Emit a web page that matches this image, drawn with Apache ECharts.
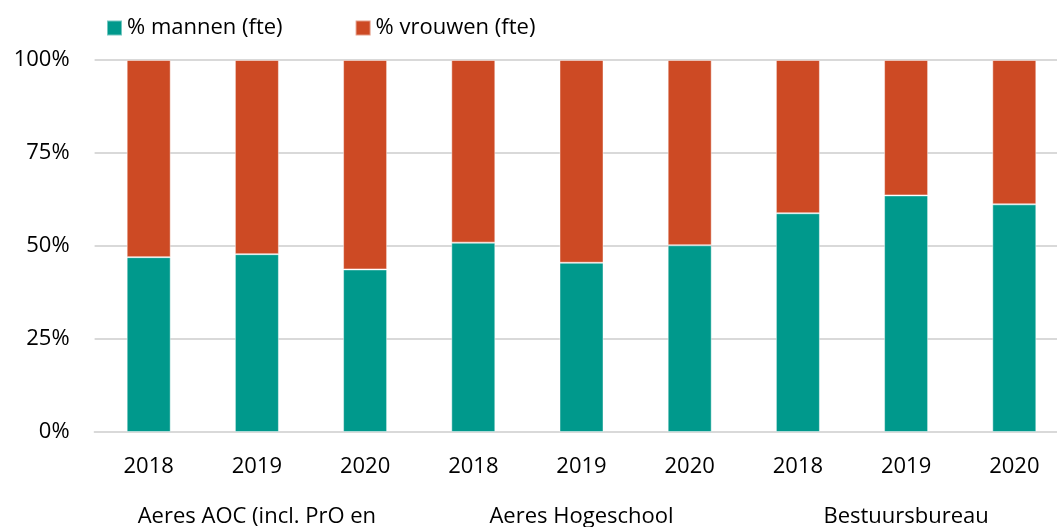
<!DOCTYPE html>
<html>
<head>
<meta charset="utf-8">
<script src="https://cdn.jsdelivr.net/npm/echarts@6/dist/echarts.min.js"></script>
<style>html,body{margin:0;padding:0;background:#fff}#c{width:1057px;height:527px}</style>
</head>
<body>
<div id="c"></div>
<script>
const years = ['2018','2019','2020','2018','2019','2020','2018','2019','2020'];
const groups = ['Aeres AOC (incl. PrO en', 'Aeres Hogeschool', 'Bestuursbureau'];
const mannen = [47.0, 47.8, 43.7, 50.9, 45.5, 50.2, 58.8, 63.6, 61.2];
const vrouwen = [53.0, 52.2, 56.3, 49.1, 54.5, 49.8, 41.2, 36.4, 38.8];
const yTicks = [0, 25, 50, 75, 100];
const seriesNames = ['% mannen (fte)', '% vrouwen (fte)'];
const colors = ['#00998C', '#CD4A24'];

const FONT = 'Open Sans';
const chart = echarts.init(document.getElementById('c'));
chart.setOption({
  animation: false,
  textStyle: { fontFamily: FONT },
  legend: {
    left: 101, top: 12,
    itemWidth: 15, itemHeight: 15, itemGap: 72,
    icon: 'rect',
    textStyle: { fontFamily: FONT, fontSize: 22, color: '#000' },
    data: seriesNames
  },
  grid: { left: 94.6, width: 973.8, top: 60, bottom: 95, containLabel: false, outerBoundsMode: 'none' },
  xAxis: [
    {
      type: 'category', data: years, position: 'bottom',
      axisLine: { lineStyle: { color: '#d9d9d9', width: 2 } },
      axisTick: { show: false },
      axisLabel: { fontFamily: FONT, fontSize: 22, color: '#000', margin: 24 }
    },
    {
      type: 'category', data: groups, position: 'bottom', offset: 64,
      axisLine: { show: false }, axisTick: { show: false },
      axisLabel: { fontFamily: FONT, fontSize: 22, color: '#000', margin: 10 }
    }
  ],
  yAxis: {
    type: 'value', min: yTicks[0], max: yTicks[yTicks.length - 1], interval: 25,
    axisLine: { show: false }, axisTick: { show: false },
    splitLine: { lineStyle: { color: '#d9d9d9', width: 2 } },
    axisLabel: { fontFamily: FONT, fontSize: 22, color: '#000', margin: 25, formatter: '{value}%' }
  },
  series: [
    { name: seriesNames[0], type: 'bar', stack: 's', data: mannen, barWidth: 44, xAxisIndex: 0,
      itemStyle: { color: colors[0], borderColor: 'rgba(255,255,255,0.45)', borderWidth: 1 } },
    { name: seriesNames[1], type: 'bar', stack: 's', data: vrouwen, barWidth: 44, xAxisIndex: 0,
      itemStyle: { color: colors[1], borderColor: 'rgba(255,255,255,0.45)', borderWidth: 1 } }
  ]
});
</script>
</body>
</html>
